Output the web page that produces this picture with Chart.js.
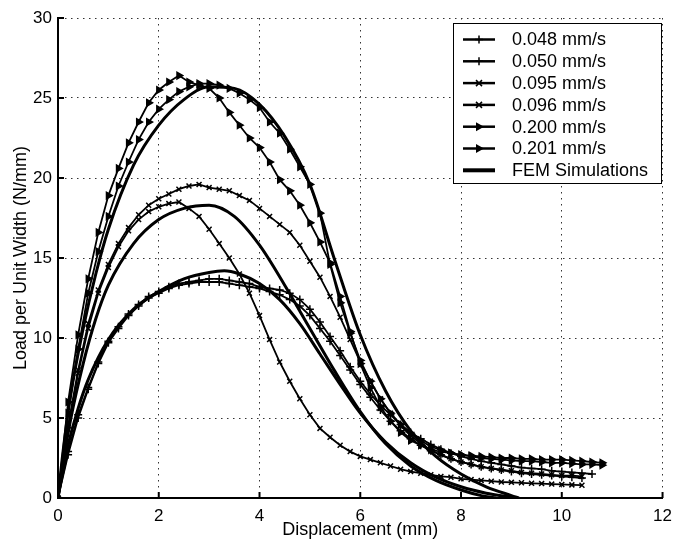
<!DOCTYPE html>
<html lang="en">
<head>
<meta charset="UTF-8">
<title>Load per Unit Width vs Displacement</title>
<script src="https://cdn.jsdelivr.net/npm/chart.js"></script>
<style>
  body { margin: 0; background: #fff; }
  #wrap { width: 680px; height: 546px; }
</style>
</head>
<body>
<div id="wrap"><canvas id="loadChart"></canvas></div>
<script>
// displacement of the test records (mm), one sample every 0.2 mm
const disp = [0, 0.2, 0.4, 0.6, 0.8, 1.0, 1.2, 1.4, 1.6, 1.8, 2.0, 2.2, 2.4, 2.6, 2.8, 3.0, 3.2, 3.4, 3.6, 3.8,
              4.0, 4.2, 4.4, 4.6, 4.8, 5.0, 5.2, 5.4, 5.6, 5.8, 6.0, 6.2, 6.4, 6.6, 6.8, 7.0, 7.2, 7.4, 7.6, 7.8,
              8.0, 8.2, 8.4, 8.6, 8.8, 9.0, 9.2, 9.4, 9.6, 9.8, 10.0, 10.2, 10.4, 10.6, 10.8];

// load per unit width (N/mm)
const load048 = [0, 2.9, 5.2, 6.9, 8.5, 9.8, 10.7, 11.5, 12.1, 12.6, 12.9, 13.2, 13.4, 13.5, 13.6, 13.7, 13.7, 13.6, 13.5, 13.4,
                 13.2, 13.1, 13.0, 12.8, 12.4, 11.8, 11.0, 10.1, 9.2, 8.2, 7.3, 6.5, 5.8, 5.2, 4.6, 4.1, 3.7, 3.35, 3.05, 2.8,
                 2.6, 2.45, 2.3, 2.2, 2.1, 2.0, 1.9, 1.85, 1.8, 1.7, 1.65, 1.6, 1.55, 1.5];
const load050 = [0, 2.7, 5.0, 6.8, 8.4, 9.7, 10.6, 11.4, 12.0, 12.5, 12.8, 13.1, 13.3, 13.4, 13.5, 13.5, 13.5, 13.4, 13.3, 13.2,
                 13.1, 12.9, 12.7, 12.4, 12.0, 11.4, 10.6, 9.8, 8.9, 8.0, 7.1, 6.3, 5.5, 4.8, 4.2, 3.7, 3.3, 2.95, 2.7, 2.45,
                 2.25, 2.1, 1.95, 1.85, 1.75, 1.65, 1.55, 1.5, 1.45, 1.4, 1.35, 1.3, 1.25];
const load095 = [0, 4.5, 8.0, 10.9, 13.0, 14.6, 15.9, 16.9, 17.7, 18.3, 18.7, 19.0, 19.3, 19.5, 19.6, 19.4, 19.3, 19.2, 18.9, 18.6,
                 18.1, 17.6, 17.1, 16.6, 15.8, 14.8, 13.8, 12.6, 11.3, 9.9, 8.5, 7.3, 6.2, 5.3, 4.5, 3.9, 3.4, 3.0, 2.7, 2.45,
                 2.25, 2.1, 1.95, 1.85, 1.75, 1.7, 1.6, 1.55, 1.5, 1.45, 1.4, 1.4, 1.35];
const load096 = [0, 4.3, 7.8, 10.6, 12.8, 14.4, 15.7, 16.7, 17.4, 17.9, 18.2, 18.4, 18.5, 18.1, 17.6, 16.8, 15.9, 15.0, 14.0, 12.8,
                 11.4, 9.9, 8.5, 7.3, 6.2, 5.2, 4.35, 3.8, 3.3, 2.9, 2.6, 2.4, 2.2, 2.0, 1.8, 1.65, 1.55, 1.45, 1.35, 1.3,
                 1.2, 1.15, 1.1, 1.05, 1.0, 0.98, 0.95, 0.92, 0.9, 0.87, 0.85, 0.82, 0.8];
const load200 = [0, 5.3, 9.3, 12.8, 15.4, 17.6, 19.5, 21.0, 22.4, 23.5, 24.3, 24.9, 25.4, 25.7, 25.9, 25.9, 25.8, 25.6, 25.3, 24.9,
                 24.4, 23.5, 22.8, 21.8, 20.7, 19.6, 17.8, 14.6, 12.2, 10.3, 8.6, 7.3, 6.2, 5.3, 4.6, 4.0, 3.6, 3.2, 3.0, 2.8,
                 2.7, 2.6, 2.5, 2.45, 2.4, 2.35, 2.3, 2.3, 2.25, 2.2, 2.2, 2.15, 2.1, 2.1, 2.05];
const load201 = [0, 6.0, 10.2, 13.7, 16.6, 18.9, 20.6, 22.2, 23.5, 24.7, 25.5, 26.0, 26.4, 26.0, 25.8, 25.6, 25.0, 24.1, 23.3, 22.5,
                 21.9, 21.0, 19.9, 19.2, 18.3, 17.2, 16.0, 14.7, 12.6, 10.4, 8.4, 6.9, 5.7, 4.8, 4.1, 3.6, 3.3, 3.0, 2.9, 2.8,
                 2.7, 2.65, 2.6, 2.55, 2.5, 2.5, 2.45, 2.45, 2.4, 2.4, 2.4, 2.35, 2.3, 2.25, 2.2];

// FEM simulations
const femHighX = [0, 0.1, 0.25, 0.5, 0.75, 1.0, 1.5, 2.0, 2.5, 3.0, 3.5, 4.0, 4.5, 5.0, 5.5, 6.0, 6.5, 7.0, 7.5, 8.0, 8.5, 9.0, 9.15];
const femHighY = [0, 2.9, 6.4, 10.6, 14.0, 16.8, 20.8, 23.3, 24.9, 25.7, 25.6, 24.6, 22.6, 19.6, 14.8, 10.2, 6.7, 4.2, 2.6, 1.5, 0.7, 0.15, 0];
const femMidX = [0, 0.1, 0.25, 0.5, 0.75, 1.0, 1.5, 2.0, 2.5, 3.0, 3.5, 4.0, 4.5, 5.0, 5.5, 6.0, 6.5, 7.0, 7.5, 8.0, 8.4, 8.7];
const femMidY = [0, 2.2, 4.9, 8.4, 11.2, 13.3, 15.9, 17.4, 18.1, 18.3, 17.6, 15.8, 13.3, 10.6, 7.9, 5.4, 3.4, 2.0, 1.1, 0.5, 0.15, 0];
const femLowX = [0, 0.1, 0.2, 0.4, 0.6, 1.0, 1.5, 2.0, 2.5, 3.0, 3.3, 3.6, 4.0, 4.4, 4.8, 5.2, 5.6, 6.0, 6.5, 7.0, 7.5, 8.0, 8.5, 9.0, 9.1];
const femLowY = [0, 1.8, 3.3, 5.6, 7.4, 9.9, 11.8, 12.9, 13.7, 14.1, 14.2, 14.0, 13.4, 12.4, 10.9, 9.0, 7.1, 5.3, 3.5, 2.2, 1.3, 0.7, 0.3, 0.05, 0];

const xTicks = [0, 2, 4, 6, 8, 10, 12];
const yTicks = [0, 5, 10, 15, 20, 25, 30];
const seriesLabels = ['0.048 mm/s', '0.050 mm/s', '0.095 mm/s', '0.096 mm/s', '0.200 mm/s', '0.201 mm/s', 'FEM Simulations'];

const FONT = '"Liberation Sans", Arial, Helvetica, sans-serif';

function toPoints(xs, ys) {
  return ys.map((y, i) => ({ x: xs[i], y: y }));
}

function testSet(label, ys, style) {
  return {
    label: label,
    data: toPoints(disp, ys),
    borderColor: '#000',
    backgroundColor: '#000',
    borderWidth: 1.8,
    tension: 0,
    pointStyle: style,
    pointRotation: style === 'triangle' ? 90 : 0,
    pointRadius: style === 'triangle' ? 3.8 : (style === 'crossRot' ? 3.5 : 4),
    pointBorderWidth: 1.5,
    pointBackgroundColor: '#000',
    pointBorderColor: '#000'
  };
}

function femSet(xs, ys) {
  return {
    label: 'FEM Simulations',
    data: toPoints(xs, ys),
    borderColor: '#000',
    borderWidth: 3,
    pointRadius: 0,
    cubicInterpolationMode: 'monotone'
  };
}

// inward tick marks like the original figure
const innerTicks = {
  id: 'innerTicks',
  afterDatasetsDraw(chart) {
    const { ctx, scales: { x, y } } = chart;
    ctx.save();
    ctx.strokeStyle = '#000';
    ctx.lineWidth = 2;
    xTicks.forEach(v => {
      const px = x.getPixelForValue(v);
      ctx.beginPath();
      ctx.moveTo(px, y.bottom);
      ctx.lineTo(px, y.bottom - 6);
      ctx.stroke();
    });
    yTicks.forEach(v => {
      const py = y.getPixelForValue(v);
      ctx.beginPath();
      ctx.moveTo(x.left, py);
      ctx.lineTo(x.left + 6, py);
      ctx.stroke();
    });
    ctx.restore();
  }
};

function drawMarker(ctx, style, cx, cy) {
  ctx.beginPath();
  if (style === 'cross') {
    ctx.moveTo(cx, cy - 4); ctx.lineTo(cx, cy + 4);
    ctx.moveTo(cx - 4, cy); ctx.lineTo(cx + 4, cy);
    ctx.lineWidth = 1.5;
    ctx.stroke();
  } else if (style === 'crossRot') {
    ctx.moveTo(cx - 3, cy - 3); ctx.lineTo(cx + 3, cy + 3);
    ctx.moveTo(cx - 3, cy + 3); ctx.lineTo(cx + 3, cy - 3);
    ctx.lineWidth = 1.5;
    ctx.stroke();
  } else if (style === 'triangle') {
    ctx.moveTo(cx + 5, cy);
    ctx.lineTo(cx - 3, cy - 4.5);
    ctx.lineTo(cx - 3, cy + 4.5);
    ctx.closePath();
    ctx.fill();
  }
}

// boxed legend in the upper right corner
const legendBox = {
  id: 'legendBox',
  afterDraw(chart) {
    const ctx = chart.ctx;
    const x0 = 453, y0 = 23, w = 208, h = 160;
    const styles = ['cross', 'cross', 'crossRot', 'crossRot', 'triangle', 'triangle', null];
    ctx.save();
    ctx.fillStyle = '#fff';
    ctx.fillRect(x0, y0, w, h);
    ctx.strokeStyle = '#000';
    ctx.lineWidth = 1;
    ctx.strokeRect(x0 + 0.5, y0 + 0.5, w, h);
    ctx.font = '18px ' + FONT;
    ctx.textBaseline = 'middle';
    ctx.fillStyle = '#000';
    seriesLabels.forEach((label, i) => {
      const cy = y0 + 16.5 + i * 21.8;
      ctx.beginPath();
      ctx.moveTo(x0 + 10, cy);
      ctx.lineTo(x0 + 42, cy);
      ctx.lineWidth = styles[i] ? 2.5 : 4;
      ctx.stroke();
      if (styles[i]) drawMarker(ctx, styles[i], x0 + 26, cy);
      ctx.fillText(label, x0 + 59, cy + 1);
    });
    ctx.restore();
  }
};

const gridOpts = {
  color: '#333',
  lineWidth: 1,
  drawTicks: false
};

new Chart(document.getElementById('loadChart'), {
  type: 'line',
  data: {
    datasets: [
      testSet(seriesLabels[0], load048, 'cross'),
      testSet(seriesLabels[1], load050, 'cross'),
      testSet(seriesLabels[2], load095, 'crossRot'),
      testSet(seriesLabels[3], load096, 'crossRot'),
      testSet(seriesLabels[4], load200, 'triangle'),
      testSet(seriesLabels[5], load201, 'triangle'),
      femSet(femHighX, femHighY),
      femSet(femMidX, femMidY),
      femSet(femLowX, femLowY)
    ]
  },
  options: {
    responsive: true,
    maintainAspectRatio: false,
    animation: false,
    layout: { padding: { top: 18, right: 12, left: 0, bottom: 0 } },
    plugins: {
      legend: { display: false },
      tooltip: { enabled: false }
    },
    scales: {
      x: {
        type: 'linear',
        min: 0,
        max: 12,
        ticks: { stepSize: 2, color: '#000', padding: 8, font: { family: FONT, size: 17 } },
        grid: gridOpts,
        border: { display: true, color: '#000', width: 2, dash: [1.5, 4.5] },
        title: { display: true, text: 'Displacement (mm)', color: '#000', font: { family: FONT, size: 18 }, padding: { top: 0, bottom: 5 } },
        afterFit(scale) { scale.height = 48; }
      },
      y: {
        min: 0,
        max: 30,
        ticks: { stepSize: 5, color: '#000', padding: 6, font: { family: FONT, size: 17 } },
        grid: gridOpts,
        border: { display: true, color: '#000', width: 2, dash: [1.5, 4.5] },
        title: { display: true, text: 'Load per Unit Width (N/mm)', color: '#000', font: { family: FONT, size: 18 }, padding: { top: 10, bottom: 0 } },
        afterFit(scale) { scale.width = 58; }
      }
    }
  },
  plugins: [innerTicks, legendBox]
});
</script>
</body>
</html>
